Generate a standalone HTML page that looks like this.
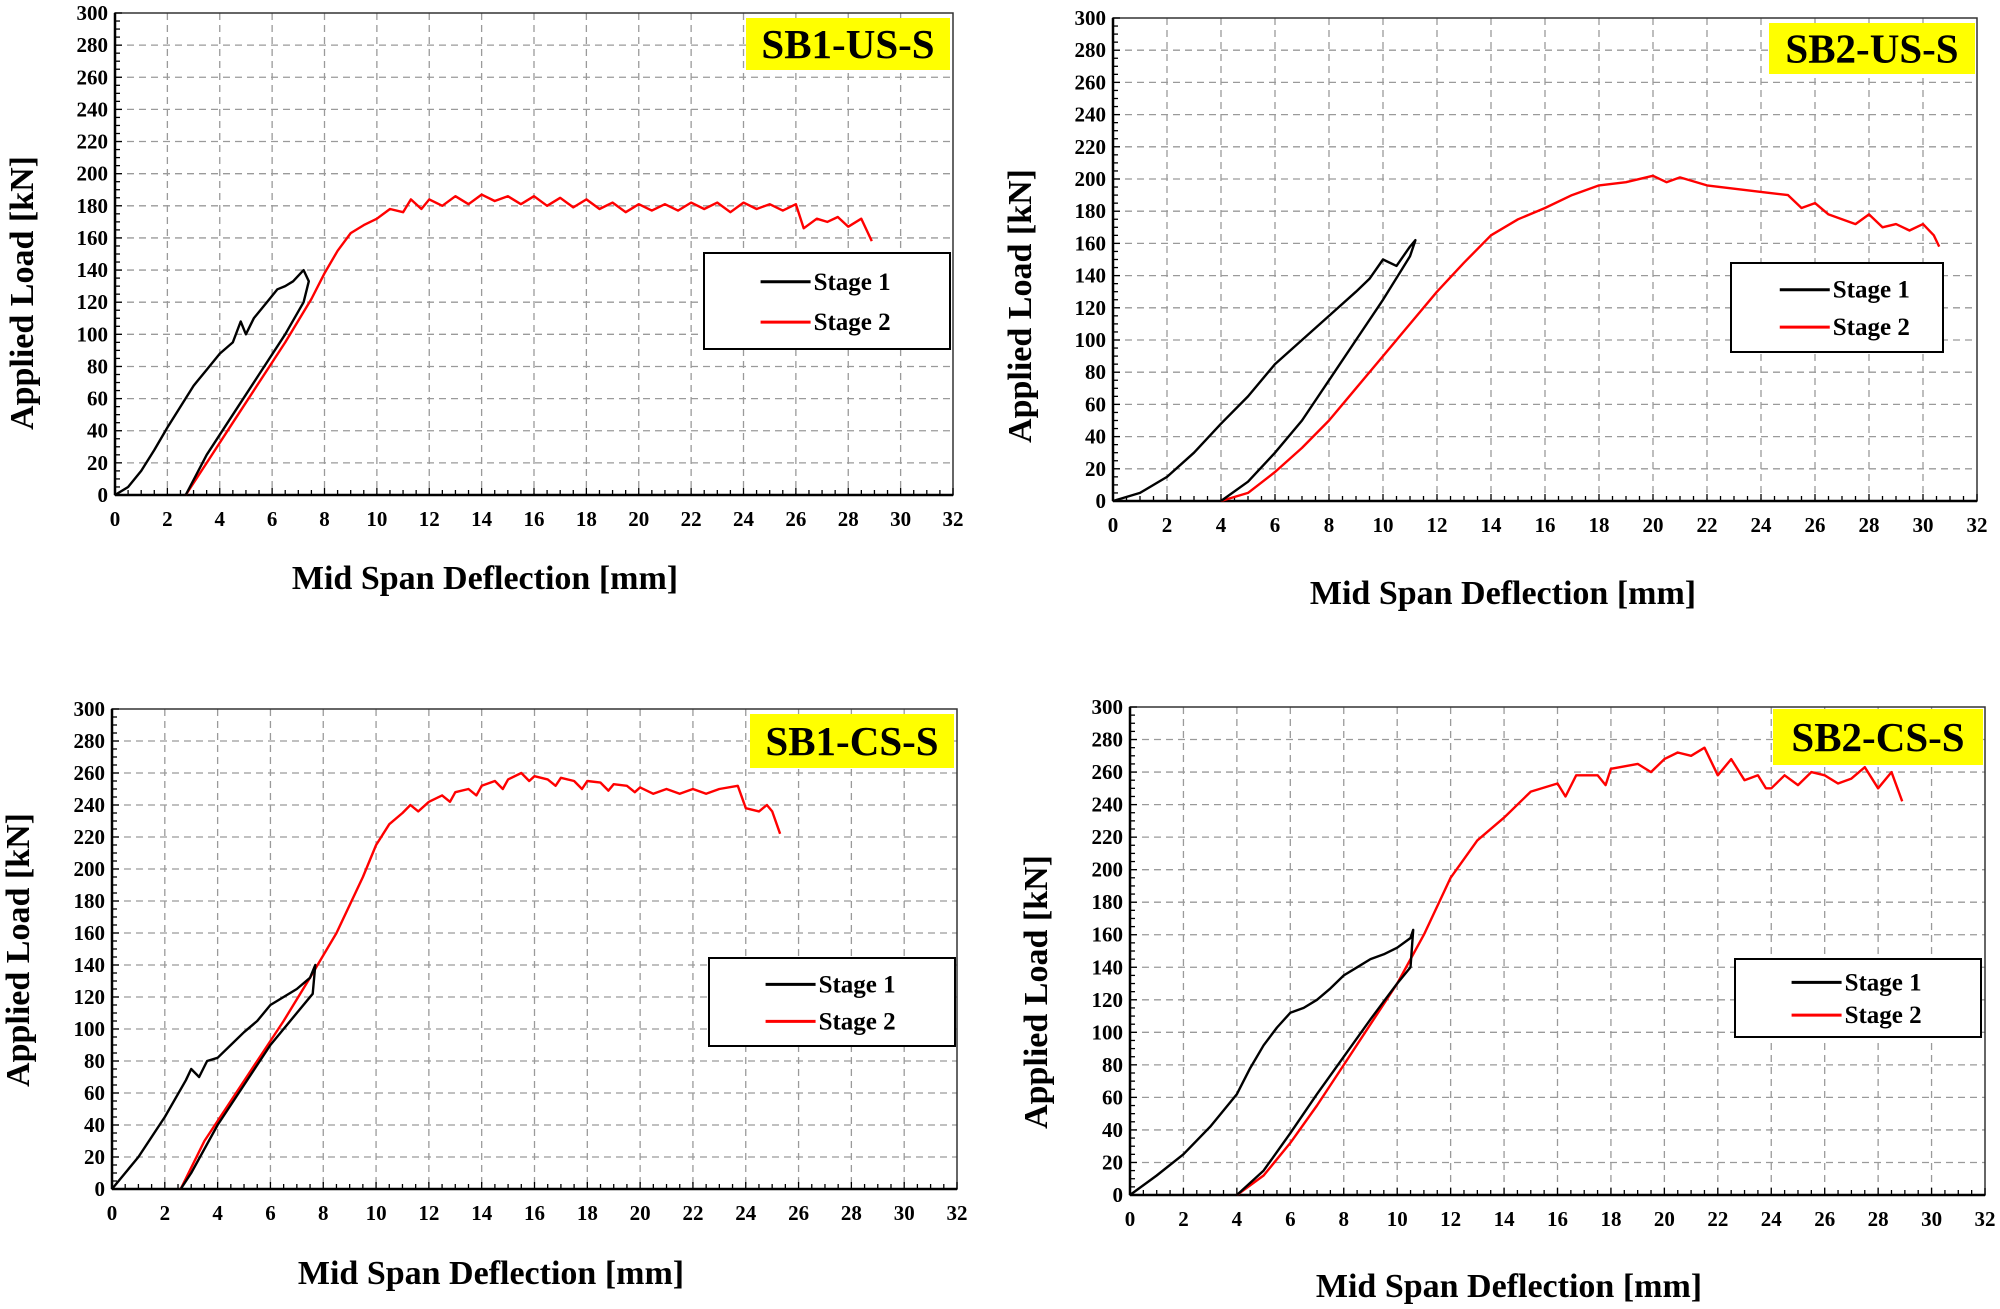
<!DOCTYPE html>
<html><head><meta charset="utf-8">
<style>
html,body{margin:0;padding:0;background:#fff;}
svg{display:block;font-family:"Liberation Serif",serif;font-weight:bold;}
</style></head>
<body>
<svg id="fig" width="2000" height="1309" viewBox="0 0 2000 1309" xmlns="http://www.w3.org/2000/svg"></svg>
<script>
// ---- data ----
const xTicks = [0,2,4,6,8,10,12,14,16,18,20,22,24,26,28,30,32];
const yTicks = [0,20,40,60,80,100,120,140,160,180,200,220,240,260,280,300];
const seriesNames = ["Stage 1","Stage 2"];
const sb1usStage1 = [[0,0],[0.5,5],[1,15],[1.5,28],[2,42],[2.5,55],[3,68],[3.5,78],[4,88],[4.5,95],[4.8,108],[5,100],[5.3,110],[5.8,120],[6.2,128],[6.5,130],[6.8,133],[7.2,140],[7.4,133],[7.2,120],[6.5,100],[5.5,75],[4.5,50],[3.5,25],[2.7,0]];
const sb1usStage2 = [[2.7,0],[3.5,20],[4.5,45],[5.5,70],[6.5,95],[7.5,122],[8,138],[8.5,152],[9,163],[9.5,168],[10,172],[10.5,178],[11,176],[11.3,184],[11.7,178],[12,184],[12.5,180],[13,186],[13.5,181],[14,187],[14.5,183],[15,186],[15.5,181],[16,186],[16.5,180],[17,185],[17.5,179],[18,184],[18.5,178],[19,182],[19.5,176],[20,181],[20.5,177],[21,181],[21.5,177],[22,182],[22.5,178],[23,182],[23.5,176],[24,182],[24.5,178],[25,181],[25.5,177],[26,181],[26.3,166],[26.8,172],[27.2,170],[27.6,173],[28,167],[28.5,172],[28.9,158]];
const sb2usStage1 = [[0,0],[1,5],[2,15],[3,30],[4,48],[5,65],[6,85],[7,100],[8,115],[9,130],[9.5,138],[10,150],[10.5,146],[11,158],[11.2,162],[11,152],[10,125],[9,100],[8,75],[7,50],[6,30],[5,12],[4,0]];
const sb2usStage2 = [[4,0],[5,5],[6,18],[7,33],[8,50],[9,70],[10,90],[11,110],[12,130],[13,148],[14,165],[15,175],[16,182],[17,190],[18,196],[19,198],[20,202],[20.5,198],[21,201],[22,196],[23,194],[24,192],[25,190],[25.5,182],[26,185],[26.5,178],[27,175],[27.5,172],[28,178],[28.5,170],[29,172],[29.5,168],[30,172],[30.4,165],[30.6,158]];
const sb1csStage1 = [[0,0],[1,20],[2,45],[2.8,68],[3,75],[3.3,70],[3.6,80],[4,82],[4.5,90],[5,98],[5.5,105],[6,115],[6.5,120],[7,125],[7.5,132],[7.7,140],[7.6,122],[7,110],[6,90],[5,65],[4,40],[3,10],[2.6,0]];
const sb1csStage2 = [[2.6,0],[3.5,30],[4.5,55],[5.5,80],[6.5,105],[7.5,132],[8.5,160],[9.5,195],[10,215],[10.5,228],[11,235],[11.3,240],[11.6,236],[12,242],[12.5,246],[12.8,242],[13,248],[13.5,250],[13.8,246],[14,252],[14.5,255],[14.8,250],[15,256],[15.5,260],[15.8,255],[16,258],[16.5,256],[16.8,252],[17,257],[17.5,255],[17.8,250],[18,255],[18.5,254],[18.8,249],[19,253],[19.5,252],[19.8,248],[20,251],[20.5,247],[21,250],[21.5,247],[22,250],[22.5,247],[23,250],[23.7,252],[24,238],[24.5,236],[24.8,240],[25,236],[25.3,222]];
const sb2csStage1 = [[0,0],[1,12],[2,25],[3,42],[4,62],[4.5,78],[5,92],[5.5,103],[6,112],[6.5,115],[7,120],[7.5,127],[8,135],[8.5,140],[9,145],[9.5,148],[10,152],[10.5,158],[10.6,163],[10.5,140],[10,130],[9,108],[8,85],[7,62],[6,38],[5,15],[4,0]];
const sb2csStage2 = [[4,0],[5,12],[6,32],[7,55],[8,80],[9,105],[10,130],[11,160],[12,195],[13,218],[14,232],[15,248],[16,253],[16.3,245],[16.7,258],[17.5,258],[17.8,252],[18,262],[19,265],[19.5,260],[20,268],[20.5,272],[21,270],[21.5,275],[22,258],[22.5,268],[23,255],[23.5,258],[23.8,250],[24,250],[24.5,258],[25,252],[25.5,260],[26,258],[26.5,253],[27,256],[27.5,263],[28,250],[28.5,260],[28.9,242]];

const panels = [
 {name:"sb1-us-s",title:"SB1-US-S",L:115,R:953,T:13,B:495,s1:sb1usStage1,s2:sb1usStage2,
  tb:[746,18,204,52],lg:[704,253,246,96],xt:[485,578],yt:[22,293]},
 {name:"sb2-us-s",title:"SB2-US-S",L:1113,R:1977,T:18,B:501,s1:sb2usStage1,s2:sb2usStage2,
  tb:[1769,23,206,51],lg:[1731,263,212,89],xt:[1503,593],yt:[1020,306]},
 {name:"sb1-cs-s",title:"SB1-CS-S",L:112,R:957,T:709,B:1189,s1:sb1csStage1,s2:sb1csStage2,
  tb:[750,714,204,54],lg:[709,958,246,88],xt:[491,1273],yt:[18,950]},
 {name:"sb2-cs-s",title:"SB2-CS-S",L:1130,R:1985,T:707,B:1195,s1:sb2csStage1,s2:sb2csStage2,
  tb:[1773,709,210,56],lg:[1735,959,246,78],xt:[1509,1286],yt:[1036,992]}
];
const NS="http://www.w3.org/2000/svg";
const svg=document.getElementById('fig');
function mk(tag,attrs,parent){const e=document.createElementNS(NS,tag);for(const k in attrs)e.setAttribute(k,attrs[k]);parent.appendChild(e);return e;}

panels.forEach(p=>{
 const g=mk('g',{},svg);
 
 
 const sx=v=>p.L+(v/32)*(p.R-p.L);
 const sy=v=>p.B-(v/300)*(p.B-p.T);
 xTicks.forEach(t=>{ if(t>0&&t<32){const l=mk('line',{x1:sx(t),x2:sx(t),y1:p.T,y2:p.B,stroke:'#9a9a9a','stroke-width':1.3,'stroke-dasharray':'7,5'},g);
   
   }});
 yTicks.forEach(t=>{ if(t>0&&t<300){const l=mk('line',{x1:p.L,x2:p.R,y1:sy(t),y2:sy(t),stroke:'#9a9a9a','stroke-width':1.3,'stroke-dasharray':'7,5'},g);
   
   }});
 const fr=mk('rect',{x:p.L,y:p.T,width:p.R-p.L,height:p.B-p.T,fill:'none',stroke:'#333','stroke-width':1.5},g);
 
 
 mk('line',{x1:p.L,x2:p.R,y1:p.B,y2:p.B,stroke:'#000','stroke-width':2.5},g);
 mk('line',{x1:p.L,x2:p.L,y1:p.T,y2:p.B,stroke:'#000','stroke-width':2.5},g);
 for(let v=0;v<=32;v+=0.5){mk('line',{x1:sx(v),x2:sx(v),y1:p.B,y2:p.B-(v%2===0?7:5),stroke:'#000','stroke-width':1.3},g);}
 for(let v=0;v<=300;v+=5){mk('line',{x1:p.L,x2:p.L+(v%20===0?7:5),y1:sy(v),y2:sy(v),stroke:'#000','stroke-width':1.3},g);}
 xTicks.forEach(t=>{const e=mk('text',{x:sx(t),y:p.B+31,'text-anchor':'middle','font-size':21},g);e.textContent=t;
   
   });
 yTicks.forEach(t=>{const e=mk('text',{x:p.L-7,y:sy(t)+7,'text-anchor':'end','font-size':21},g);e.textContent=t;
   
   });
 const xt=mk('text',{x:p.xt[0],y:p.xt[1]+11,'text-anchor':'middle','font-size':34},g);xt.textContent='Mid Span Deflection [mm]';
 
 
 const yt=mk('text',{x:0,y:0,'text-anchor':'middle','font-size':34,transform:`translate(${p.yt[0]+11},${p.yt[1]}) rotate(-90)`},g);yt.textContent='Applied Load [kN]';
 
 
 const toPts=arr=>arr.map(d=>sx(d[0]).toFixed(1)+','+sy(d[1]).toFixed(1)).join(' ');
 const l2=mk('polyline',{points:toPts(p.s2),fill:'none',stroke:'#ff0000','stroke-width':2.4,'stroke-linejoin':'round'},g);
 
 
 const l1=mk('polyline',{points:toPts(p.s1),fill:'none',stroke:'#000','stroke-width':2.4,'stroke-linejoin':'round'},g);
 
 
 const tb=mk('rect',{x:p.tb[0],y:p.tb[1],width:p.tb[2],height:p.tb[3],fill:'#ffff00'},g);
 
 
 const tt=mk('text',{x:p.tb[0]+p.tb[2]/2,y:p.tb[1]+p.tb[3]/2+14,'text-anchor':'middle','font-size':41},g);tt.textContent=p.title;
 
 
 const lg=mk('rect',{x:p.lg[0],y:p.lg[1],width:p.lg[2],height:p.lg[3],fill:'#fff',stroke:'#000','stroke-width':2},g);
 
 
 [['#000',0],['#ff0000',1]].forEach(([c,i])=>{
   const yy=p.lg[1]+p.lg[3]*(i===0?0.3:0.72);
   const lx=p.lg[0]+p.lg[2]*0.23;
   mk('line',{x1:lx,x2:lx+50,y1:yy,y2:yy,stroke:c,'stroke-width':3},g);
   const e=mk('text',{x:lx+53,y:yy+8,'font-size':25},g);e.textContent=seriesNames[i];
   
   
 });
});
</script>
</body></html>
